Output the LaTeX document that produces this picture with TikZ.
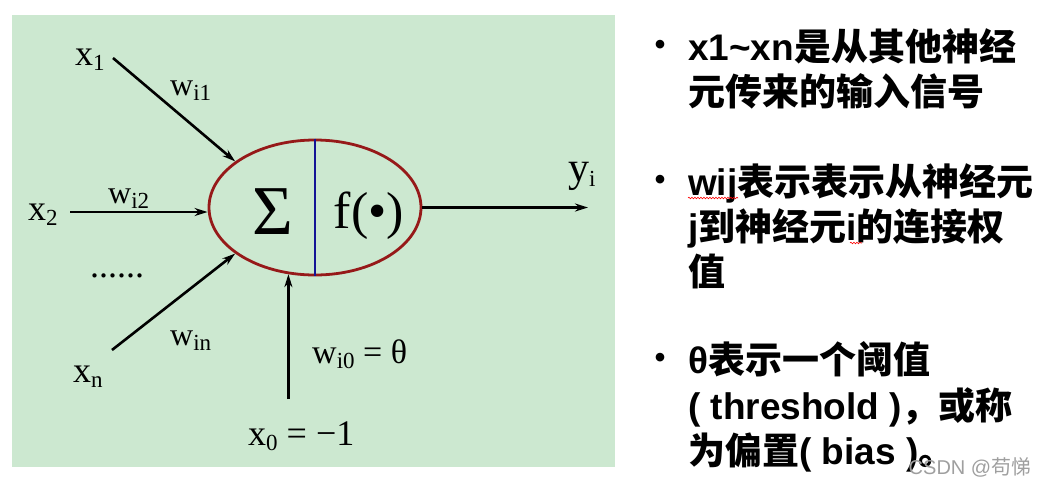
\documentclass[tikz,border=0pt]{standalone}
\usepackage{fontspec}
\setmainfont{Liberation Serif}
\newfontfamily\cjk{Noto Sans CJK SC}
\newfontfamily\lat{Liberation Sans}
\usetikzlibrary{arrows.meta,shapes.geometric,decorations.pathmorphing}
\definecolor{panelgreen}{RGB}{204,232,208}
\definecolor{neuronred}{RGB}{150,25,25}
\definecolor{sepblue}{RGB}{20,20,150}
\newcommand\zh[1]{{\cjk #1}}
\newcommand\sbs[1]{\raisebox{-5pt}{\fontsize{23}{23}\selectfont #1}}
\begin{document}
\begin{tikzpicture}[x=1pt,y=-1pt,
    arr/.style={line width=2.6pt,-{Stealth[length=13pt,width=8pt]}},
    lbl/.style={anchor=base west,inner sep=0pt,font=\fontsize{36}{36}\selectfont},
    wlbl/.style={lbl,font=\fontsize{32}{32}\selectfont},
    txtline/.style={anchor=base west,inner sep=0pt,font=\lat\bfseries\fontsize{37}{37}\selectfont},
    bul/.style={inner sep=0pt,font=\lat\bfseries\fontsize{30}{30}\selectfont}]
        \useasboundingbox (0,0) rectangle (1041,488);
        \fill[white] (0,0) rectangle (1041,488);
        \fill[panelgreen] (12,15) rectangle (615,467);
        \node[ellipse, draw=neuronred, line width=2.8pt, minimum width=212pt, minimum height=135pt, inner sep=0pt] (n) at (315,207.5) {};
        \draw[sepblue, line width=2.8pt] (n.north) -- (n.south);
        \node[inner sep=0pt, font=\fontsize{70}{70}\selectfont] (sum) at (273,212) {Σ};
        \node[inner sep=0pt, font=\fontsize{52}{52}\selectfont] (act) at (369,216) {f(•)};
        \node[lbl] (x1) at (75,65) {x\sbs{1}};
        \node[wlbl] (w1) at (170,95) {w\sbs{i1}};
        \node[lbl] (x2) at (28,220) {x\sbs{2}};
        \node[wlbl] (w2) at (108,203) {w\sbs{i2}};
        \node[lbl] (dots) at (90,277) {......};
        \node[lbl] (xn) at (73,382) {x\sbs{n}};
        \node[wlbl] (wn) at (170,345) {w\sbs{in}};
        \node[wlbl, font=\fontsize{34}{34}\selectfont] (w0) at (312,363) {w\sbs{i0} = θ};
        \node[lbl] (x0) at (248,445) {x\sbs{0} = −1};
        \node[lbl, font=\fontsize{42}{42}\selectfont] (y) at (568,181) {y\sbs{i}};
        \coordinate (s1) at (113,58);
        \coordinate (s2) at (70,212);
        \coordinate (sn) at (112,350);
        \coordinate (s0) at (288.4,399);
        \coordinate (yo) at (588,207.5);
        \foreach \a/\b in {s1/n.150, s2/s2 -| n.west, sn/n.210}
            \draw[arr] (\a) -- (\b);
        \draw[arr] (s0) -- (s0 |- n.248);
        \draw[arr] (n.east) -- (yo);
        \node[bul] (b1) at (660,47) {•};
        \node[txtline] (t1) at (688,60) {x1\textasciitilde xn\zh{是从其他神经}};
        \node[txtline] (t2) at (688,105) {\zh{元传来的输入信号}};
        \node[bul] (b2) at (660,182) {•};
        \node[txtline] (t3) at (688,195) {wij\zh{表示表示从神经元}};
        \node[txtline] (t4) at (688,240) {j\zh{到神经元}i\zh{的连接权}};
        \node[txtline] (t5) at (688,285) {\zh{值}};
        \node[bul] (b3) at (660,360) {•};
        \node[txtline] (t6) at (688,373) {θ\zh{表示一个阈值}};
        \node[txtline] (t7) at (688,419) {( threshold )\zh{，或称}};
        \node[txtline] (t8) at (688,464) {\zh{为偏置}( bias )\zh{。}};
        \draw[red, line width=0.6pt, decorate, decoration={snake, amplitude=0.8pt, segment length=3pt}] ([yshift=-3pt]t3.base west) -- ++(50,0);
        \draw[red, line width=0.6pt, decorate, decoration={snake, amplitude=0.8pt, segment length=3pt}] (850,243) -- (862,243);
        \node[inner sep=0pt, text=gray!75, font=\lat\fontsize{20}{20}\selectfont] (wm) at (970,467) {CSDN @\zh{苟悌}};
    \end{tikzpicture}
\end{document}
